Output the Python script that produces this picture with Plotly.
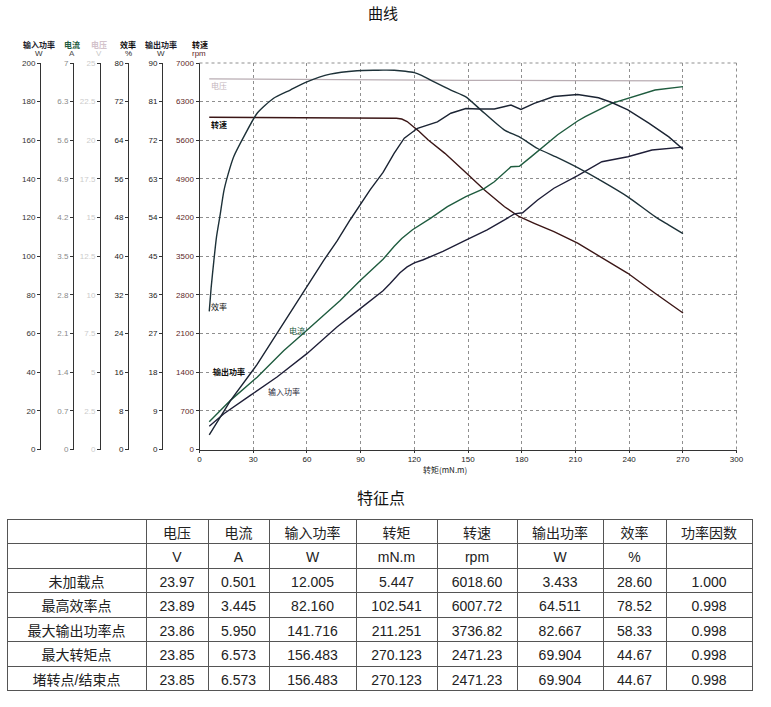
import plotly.graph_objects as go

W, H = 771, 707

# ---------------- data ----------------
x_ticks = [0, 30, 60, 90, 120, 150, 180, 210, 240, 270, 300]

voltage_torque = [5.447, 30, 60, 102.541, 150, 211.251, 240, 270.123]
voltage = [23.97, 23.95, 23.93, 23.89, 23.88, 23.86, 23.85, 23.85]

speed_torque = [5.447, 30, 60, 90, 102.541, 110, 113, 116, 119.5, 122, 127.8, 137.1,
                149.2, 159.2, 170.4, 178.7, 187, 198, 211.251, 219.2, 239.3, 254.5, 262, 270.123]
speed = [6018.60, 6016, 6013, 6010, 6007.72, 6000, 5985, 5940, 5846, 5780, 5605, 5364,
         5002, 4699, 4397, 4216, 4096, 3945, 3736.82, 3583, 3191, 2829, 2660, 2471.23]

eff_torque = [5.447, 6.5, 8, 9.5, 11.5, 13.6, 16, 19.1, 24.7, 32.2, 41.4, 50.7, 60, 73, 88, 99,
              102.541, 108.8, 115, 120, 123.7, 131.1, 140.4, 148.8, 157.1, 170.4, 178.7, 188.9,
              200.6, 211.251, 225, 239.3, 254.5, 262, 270.123]
efficiency = [28.60, 33.5, 39, 44, 48.5, 53.5, 57, 60.6, 64.7, 69.6, 72.7, 74.4, 76.1, 77.7, 78.4,
              78.5, 78.52, 78.5, 78.3, 78.0, 77.5, 76.1, 74.4, 73.0, 70.3, 66.1, 64.7, 62.3,
              60.3, 58.33, 55.5, 52.3, 48.2, 46.5, 44.67]

out_torque = [5.447, 10, 17.3, 32.2, 43.3, 58.2, 69.3, 76.8, 84.2, 95.4, 102.541, 108.8, 114.4,
              121.8, 132.9, 140.4, 148.8, 156, 164.7, 170, 174, 179.6, 187, 198, 205, 211.251,
              222.9, 230.3, 239.3, 251, 262.2, 270.123]
out_power = [3.433, 6.5, 11.4, 19.8, 27.0, 36.8, 44.0, 48.5, 53.5, 60.5, 64.511, 69.0, 72.5,
             74.8, 76.3, 78.3, 79.4, 79.3, 79.3, 79.8, 80.2, 79.2, 80.6, 82.2, 82.5, 82.667,
             81.9, 80.8, 79.1, 76.0, 72.8, 69.904]

cur_torque = [5.447, 17.3, 32.2, 47, 60, 78.6, 89.8, 102.541, 108.8, 113, 119, 129.2, 138.5,
              148.8, 159.2, 164.7, 174, 178.7, 185.2, 190.8, 200.1, 211.251, 215.5, 230.3,
              239.3, 254.5, 270.123]
current = [0.501, 0.89, 1.31, 1.79, 2.16, 2.70, 3.06, 3.445, 3.68, 3.82, 3.98, 4.19, 4.40,
           4.58, 4.73, 4.85, 5.12, 5.13, 5.30, 5.45, 5.70, 5.950, 6.03, 6.27,
           6.36, 6.51, 6.573]

in_torque = [5.447, 13.6, 28.4, 43.3, 60, 76.8, 89.8, 102.541, 106.5, 112, 116, 120, 125, 136,
             148.8, 160.7, 170.4, 175.9, 180.5, 188.9, 198, 211.251, 224.8, 239.3, 252.8, 270.123]
in_power = [12.005, 18.5, 28.0, 37.5, 49.6, 63.4, 72.9, 82.160, 85.9, 91.5, 94.5, 96.6, 98.2,
            102.5, 108.4, 113.6, 118.8, 121.9, 122.5, 129.1, 135.2, 141.716, 148.9, 151.5,
            155.0, 156.483]

# left-side axes (tick values / labels)
rpm_ticks = [0, 700, 1400, 2100, 2800, 3500, 4200, 4900, 5600, 6300, 7000]
pin_ticks = [0, 20, 40, 60, 80, 100, 120, 140, 160, 180, 200]
cur_ticks = [0, 0.7, 1.4, 2.1, 2.8, 3.5, 4.2, 4.9, 5.6, 6.3, 7]
cur_labels = ["0", "0.7", "1.4", "2.1", "2.8", "3.5", "4.2", "4.9", "5.6", "6.3", "7"]
volt_ticks = [0, 2.5, 5, 7.5, 10, 12.5, 15, 17.5, 20, 22.5, 25]
volt_labels = ["0", "2.5", "5", "7.5", "10", "12.5", "15", "17.5", "20", "22.5", "25"]
eff_ticks = [0, 8, 16, 24, 32, 40, 48, 56, 64, 72, 80]
pout_ticks = [0, 9, 18, 27, 36, 45, 54, 63, 72, 81, 90]

# table
row_names = ["", "未加载点", "最高效率点", "最大输出功率点", "最大转矩点", "堵转点/结束点"]
col_names = ["", "电压", "电流", "输入功率", "转矩", "转速", "输出功率", "效率", "功率因数"]
tbl_voltage = ["23.97", "23.89", "23.86", "23.85", "23.85"]
tbl_current = ["0.501", "3.445", "5.950", "6.573", "6.573"]
tbl_pin = ["12.005", "82.160", "141.716", "156.483", "156.483"]
tbl_torque = ["5.447", "102.541", "211.251", "270.123", "270.123"]
tbl_speed = ["6018.60", "6007.72", "3736.82", "2471.23", "2471.23"]
tbl_pout = ["3.433", "64.511", "82.667", "69.904", "69.904"]
tbl_eff = ["28.60", "78.52", "58.33", "44.67", "44.67"]
tbl_pf = ["1.000", "0.998", "0.998", "0.998", "0.998"]

# ---------------- styling ----------------
FONT = "Liberation Sans, Noto Sans CJK SC, sans-serif"
CJK = "Noto Sans CJK SC, Liberation Sans, sans-serif"
C_EFF = "#1d3138"
C_SPD = "#3b1616"
C_OUT = "#1b2433"
C_IN = "#1f1f38"
C_CUR = "#1f5c3f"
C_VOLT = "#b9adb3"
C_RPM_TXT = "#5e1f1f"


def px_x(px):
    return px / W


def px_y(py):
    return 1 - py / H


fig = go.Figure()

fig.add_trace(go.Scatter(x=voltage_torque, y=voltage, yaxis="y4", mode="lines",
                         line=dict(color=C_VOLT, width=1.3), name="电压"))
fig.add_trace(go.Scatter(x=speed_torque, y=speed, yaxis="y", mode="lines",
                         line=dict(color=C_SPD, width=1.4), name="转速"))
fig.add_trace(go.Scatter(x=eff_torque, y=efficiency, yaxis="y5", mode="lines",
                         line=dict(color=C_EFF, width=1.4, shape="spline", smoothing=0.6), name="效率"))
fig.add_trace(go.Scatter(x=out_torque, y=out_power, yaxis="y6", mode="lines",
                         line=dict(color=C_OUT, width=1.4), name="输出功率"))
fig.add_trace(go.Scatter(x=cur_torque, y=current, yaxis="y3", mode="lines",
                         line=dict(color=C_CUR, width=1.4), name="电流"))
fig.add_trace(go.Scatter(x=in_torque, y=in_power, yaxis="y2", mode="lines",
                         line=dict(color=C_IN, width=1.4), name="输入功率"))

# table
fig.add_trace(go.Table(
    domain=dict(x=[px_x(7), px_x(752)], y=[px_y(692), px_y(519)]),
    columnwidth=[139, 62, 61, 87, 81, 80, 86, 63, 86],
    header=dict(values=col_names, height=24.5, align="center",
                fill=dict(color="white"), line=dict(color="#555", width=1),
                font=dict(family=CJK, size=14, color="#222")),
    cells=dict(values=[row_names,
                       ["V"] + tbl_voltage, ["A"] + tbl_current, ["W"] + tbl_pin,
                       ["mN.m"] + tbl_torque, ["rpm"] + tbl_speed, ["W"] + tbl_pout,
                       ["%"] + tbl_eff, [""] + tbl_pf],
               height=24.5, align="center",
               fill=dict(color="white"), line=dict(color="#555", width=1),
               font=dict(family=FONT, size=14, color="#222")),
))

x0, x1 = px_x(199.5), px_x(736.5)
y0, y1 = px_y(449.5), px_y(63)


def side_axis(pos, rng, vals, texts, color):
    return dict(overlaying="y", anchor="free", position=pos, side="left", range=rng,
                tickvals=vals, ticktext=texts, showline=True, linecolor="#333", linewidth=1,
                ticks="outside", ticklen=3, tickcolor="#333",
                tickfont=dict(family=FONT, size=8, color=color),
                showgrid=False, zeroline=False, fixedrange=True, automargin=False)


fig.update_layout(
    template="none",
    width=W, height=H, autosize=False,
    margin=dict(l=0, r=0, t=0, b=0, pad=0, autoexpand=False),
    paper_bgcolor="white", plot_bgcolor="white",
    showlegend=False,
    font=dict(family=FONT, size=8, color="#222"),
    xaxis=dict(domain=[x0, x1], range=[0, 300], tickvals=x_ticks, automargin=False,
               showline=True, linecolor="#333", linewidth=1,
               ticks="outside", ticklen=2, tickcolor="#333",
               tickfont=dict(family=FONT, size=8, color="#222"),
               showgrid=True, gridcolor="#8f8f8f", griddash="dot", gridwidth=1,
               zeroline=False, fixedrange=True),
    yaxis=dict(domain=[y0, y1], range=[0, 7000], tickvals=rpm_ticks, automargin=False,
               showline=True, linecolor="#333", linewidth=1,
               ticks="outside", ticklen=3, tickcolor="#333",
               tickfont=dict(family=FONT, size=8, color=C_RPM_TXT),
               showgrid=True, gridcolor="#8f8f8f", griddash="dot", gridwidth=1,
               zeroline=False, fixedrange=True),
    yaxis2=side_axis(px_x(40), [0, 200], pin_ticks, [str(v) for v in pin_ticks], "#333"),
    yaxis3=side_axis(px_x(73), [0, 7], cur_ticks, cur_labels, "#8a8a8a"),
    yaxis4=side_axis(px_x(100), [0, 25], volt_ticks, volt_labels, "#cccccc"),
    yaxis5=side_axis(px_x(128), [0, 80], eff_ticks, [str(v) for v in eff_ticks], "#222"),
    yaxis6=side_axis(px_x(162), [0, 90], pout_ticks, [str(v) for v in pout_ticks], "#222"),
)

# plot border (top / right dotted)
fig.add_shape(type="line", xref="paper", yref="paper", x0=x0, x1=x1, y0=y1, y1=y1,
              line=dict(color="#8f8f8f", width=1, dash="dot"))
fig.add_shape(type="line", xref="paper", yref="paper", x0=x1, x1=x1, y0=y0, y1=y1,
              line=dict(color="#8f8f8f", width=1, dash="dot"))

ann = []


def text(px, py, s, size=8, color="#222", xanchor="center", bold=False, family=CJK):
    ann.append(dict(x=px_x(px), y=px_y(py), xref="paper", yref="paper",
                    text=(f"<b>{s}</b>" if bold else s),
                    showarrow=False, xanchor=xanchor, yanchor="middle",
                    font=dict(family=family, size=size, color=color)))


# titles
text(383, 13, "曲线", size=15, color="#111")
text(381, 497, "特征点", size=16, color="#111")

# axis titles
text(39, 44, "输入功率", bold=True, color="#1c1c2c")
text(39, 53, "W", color="#333", family=FONT)
text(72, 44, "电流", bold=True, color=C_CUR)
text(72, 53, "A", color="#555", family=FONT)
text(99, 44, "电压", bold=True, color="#d3c3cb")
text(99, 53, "V", color="#c8c8c8", family=FONT)
text(128, 44, "效率", bold=True, color="#111")
text(128, 53, "%", color="#222", family=FONT)
text(161, 44, "输出功率", bold=True, color="#1c1c2c")
text(161, 53, "W", color="#333", family=FONT)
text(200, 44, "转速", bold=True, color="#1a1010")
text(199, 53, "rpm", color=C_RPM_TXT, family=FONT)

# x axis title
text(445, 469, "转矩(mN.m)", size=8, color="#222")

# curve labels
text(209, 85, "电压", color="#c4b6bd", xanchor="left")
text(209, 124, "转速", color="#111", xanchor="left", bold=True)
text(209, 306, "效率", color="#111", xanchor="left")
text(287, 330, "电流", color=C_CUR, xanchor="left")
text(211, 371, "输出功率", color="#111", xanchor="left", bold=True)
text(266, 391, "输入功率", color=C_IN, xanchor="left")

fig.update_layout(annotations=ann)

fig.write_html(
    "out.html",
    config={"displayModeBar": False, "staticPlot": True},
    post_script="document.body.style.margin='0px';"
                "document.documentElement.style.overflow='hidden';"
                "document.body.style.overflow='hidden';",
)
